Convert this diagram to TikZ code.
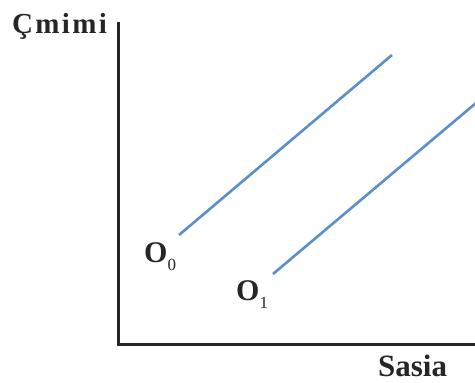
\documentclass[tikz,border=0pt]{standalone}
\usepackage{fontspec}
\setmainfont{Liberation Serif}
\newcommand{\lowsub}[1]{\raisebox{-0.28em}{\fontsize{17}{18}\selectfont\mdseries #1}}
\begin{document}
\begin{tikzpicture}[x=1pt,y=-1pt,
  axis/.style={line width=3pt,draw=black!85,line join=miter},
  supply/.style={line width=2.6pt,draw=blueline},
  lbl/.style={font=\bfseries\fontsize{30}{31}\selectfont,inner sep=0pt,anchor=base west,text=black!85}]
\definecolor{blueline}{RGB}{91,142,204}
\useasboundingbox (0,0) rectangle (475,383);
\coordinate (top) at (118.5,22);
\coordinate (origin) at (118.5,344);
\coordinate (right) at (476,344);
\draw[axis] (top) -- (origin) -- (right);
\coordinate (a0) at (179,235);
\coordinate (b0) at (392,55);
\coordinate (a1) at (273,274);
\coordinate (b1) at (476,103);
\draw[supply] (a0) -- (b0);
\draw[supply] (a1) -- (b1);
\node[lbl,font=\bfseries\fontsize{29}{30}\selectfont\addfontfeature{LetterSpace=8}] (ylab) at (12,33) {Çmimi};
\node[lbl,font=\bfseries\fontsize{31}{32}\selectfont] (xlab) at (378,376) {Sasia};
\node[lbl] (o0) at (144,262) {O\lowsub{0}};
\node[lbl] (o1) at (236,300) {O\lowsub{1}};
\end{tikzpicture}
\end{document}
